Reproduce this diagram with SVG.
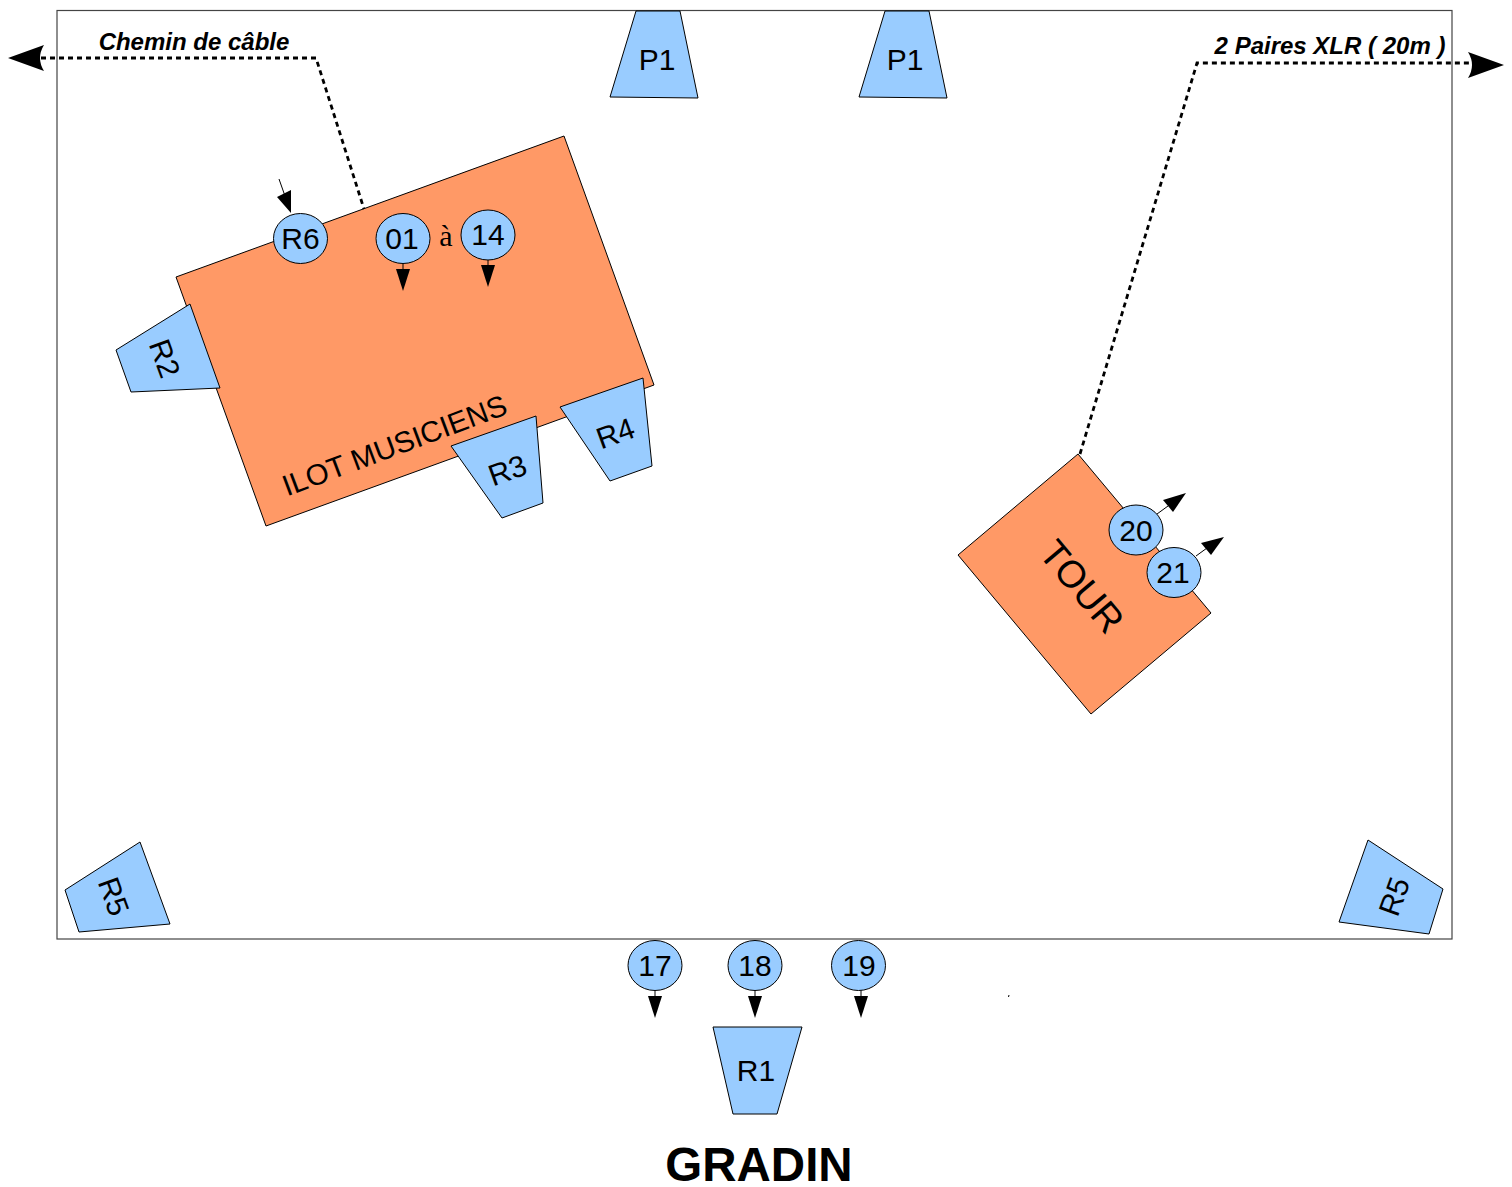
<svg xmlns="http://www.w3.org/2000/svg" width="1512" height="1187" viewBox="0 0 1512 1187">
<style>
text{font-family:"Liberation Sans",Arial,sans-serif;fill:#000;text-anchor:middle}
.a{fill:#ff9966;stroke:#000;stroke-width:1}
.b{fill:#99ccff;stroke:#000;stroke-width:1}
.c{stroke:#000;stroke-width:1;fill:none}
.h{fill:#000;stroke:none}
.d{stroke:#000;stroke-width:2.8;fill:none;stroke-dasharray:5 4}
.t{font-size:30px}
.l{font-size:24px;font-weight:bold;font-style:italic}
</style>
<rect id="salle" x="57" y="10.500" width="1395" height="928.500" fill="#fff" stroke="#444" stroke-width="1.2"/>
<g id="ilot"><polygon class="a" points="176,277 564,136 654,385 266,526"/><text transform="translate(398,455) rotate(-20.500)" style="font-size:29.500px">ILOT MUSICIENS</text></g>
<g id="tour"><polygon class="a" points="1078,454 1211,613 1091,714 958,555"/><text transform="translate(1072,595) rotate(50)" style="font-size:38px">TOUR</text></g>
<g id="connectors">
<path class="d" d="M41,58H316L364,209"/>
<path class="d" d="M1080,454L1197,63H1480"/>
<path class="h" d="M8,58L44,45Q36,58 44,71Z"/>
<path class="h" d="M1504,65L1468,52Q1476,65 1468,78Z"/>
<path class="c" d="M279,179L285,196"/><path class="h" d="M291,213L277,197L291,190Z"/>
<path class="c" d="M403,264V270"/><path class="h" d="M403,291L396,269H410Z"/>
<path class="c" d="M488,260V266"/><path class="h" d="M488,287L481,265H495Z"/>
<path class="c" d="M655,990V997"/><path class="h" d="M655,1018L648,996H662Z"/>
<path class="c" d="M755,990V997"/><path class="h" d="M755,1018L748,996H762Z"/>
<path class="c" d="M861,990V997"/><path class="h" d="M861,1018L854,996H868Z"/>
<path class="c" d="M1157,514L1168,506"/><path class="h" d="M1186,493L1173,512L1163,500Z"/>
<path class="c" d="M1196,556L1207,548"/><path class="h" d="M1224,537L1211,555L1201,543Z"/>
<path class="c" d="M1009,995L1008.500,997"/>
</g>
<g id="P1a"><polygon class="b" points="636,11 680,11 698,98 610,97"/><text class="t" x="657" y="70">P1</text></g>
<g id="P1b"><polygon class="b" points="885,11 929,11 947,98 859,97"/><text class="t" x="905" y="70">P1</text></g>
<g id="R2"><polygon class="b" points="116,350 190,304 220,388 131,392"/><text class="t" transform="translate(155,362) rotate(70)">R2</text></g>
<g id="R3"><polygon class="b" points="451,446 536,416 543,503 502,518"/><text class="t" transform="translate(511,480) rotate(-20)">R3</text></g>
<g id="R4"><polygon class="b" points="560,407 643,378 652,466 610,481"/><text class="t" transform="translate(619,443) rotate(-20)">R4</text></g>
<g id="R5a"><polygon class="b" points="65,890 140,842 170,924 79,932"/><text class="t" transform="translate(104,900) rotate(70)">R5</text></g>
<g id="R5b"><polygon class="b" points="1368,840 1443,889 1429,934 1339,922"/><text class="t" transform="translate(1404,900) rotate(-70)">R5</text></g>
<g id="R1"><polygon class="b" points="713,1027 802,1027 777,1114 733,1114"/><text class="t" x="756" y="1081">R1</text></g>
<g id="R6"><ellipse class="b" cx="300.500" cy="238.500" rx="27" ry="25"/><text class="t" x="300.500" y="249">R6</text></g>
<g id="n01"><ellipse class="b" cx="403" cy="238.500" rx="27" ry="25"/><text class="t" x="402" y="249">01</text></g>
<text id="a" x="446" y="246" style="font-family:'Liberation Serif',serif;font-size:30px">à</text>
<g id="n14"><ellipse class="b" cx="488" cy="235" rx="27" ry="25"/><text class="t" x="488" y="245">14</text></g>
<g id="n17"><ellipse class="b" cx="655" cy="965.500" rx="27" ry="25"/><text class="t" x="655" y="976">17</text></g>
<g id="n18"><ellipse class="b" cx="755" cy="965.500" rx="27" ry="25"/><text class="t" x="755" y="976">18</text></g>
<g id="n19"><ellipse class="b" cx="858.500" cy="965.500" rx="27" ry="25"/><text class="t" x="859" y="976">19</text></g>
<g id="n20"><ellipse class="b" cx="1136" cy="530" rx="27" ry="25"/><text class="t" x="1136" y="541">20</text></g>
<g id="n21"><ellipse class="b" cx="1174" cy="572.500" rx="27" ry="25"/><text class="t" x="1173" y="583">21</text></g>
<text class="l" x="194" y="50">Chemin de câble</text>
<text class="l" x="1330" y="54">2 Paires XLR ( 20m )</text>
<text x="759" y="1181" style="font-size:47.500px;font-weight:bold">GRADIN</text>
</svg>
